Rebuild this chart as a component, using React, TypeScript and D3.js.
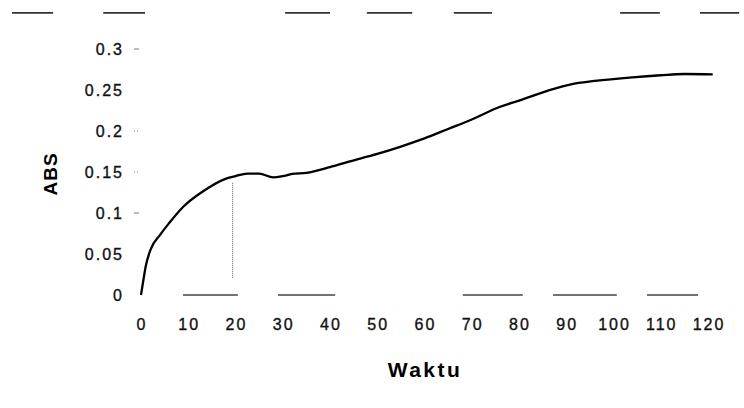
import React from "react";
import * as d3 from "d3";

const timeValues = [0, 0.5, 1, 2, 4, 6, 9, 13, 18, 20, 22.5, 25, 28, 30, 32, 35, 40, 44, 50, 55, 60, 65, 70, 76, 80, 86, 91, 96, 104, 110, 115, 121];
const absValues = [0, 0.018, 0.035, 0.055, 0.073, 0.088, 0.108, 0.126, 0.142, 0.145, 0.148, 0.148, 0.1435, 0.145, 0.1476, 0.149, 0.156, 0.1626, 0.172, 0.181, 0.191, 0.2025, 0.214, 0.2296, 0.237, 0.249, 0.257, 0.261, 0.2655, 0.268, 0.2695, 0.269];

const xTicks = [0, 10, 20, 30, 40, 50, 60, 70, 80, 90, 100, 110, 120];
const yTicks = [0, 0.05, 0.1, 0.15, 0.2, 0.25, 0.3];
const yTickLabels = ["0", "0.05", "0.1", "0.15", "0.2", "0.25", "0.3"];
const yTickMarks = [0.1, 0.15, 0.2, 0.3];

const markerTime = 19.4;
const markerRange = [0.021, 0.137];

// scan-artifact segments (time start, time end)
const topSegments = [[-27.3, -18.6], [-8.0, 0.85], [30.5, 40.0], [47.8, 57.4], [66.2, 74.3], [101.4, 109.8], [118.3, 126.6]];
const topSegmentLevel = 0.344;
const bottomSegments = [[8.9, 20.5], [29.0, 41.1], [68.1, 80.8], [87.2, 100.7], [107.1, 117.9]];

const xTitle = "Waktu";
const yTitle = "ABS";

export default function App() {
  const W = 744, H = 408;
  const x = d3.scaleLinear().domain([0, 120]).range([141, 708]);
  const y = d3.scaleLinear().domain([0, 0.3]).range([295, 49]);
  const data = timeValues.map((t, i) => [t, absValues[i]] as [number, number]);
  const line = d3.line<[number, number]>().x(d => x(d[0])).y(d => y(d[1])).curve(d3.curveMonotoneX);
  const font = "Arial, 'Liberation Sans', sans-serif";

  return (
    <svg width={W} height={H} style={{ position: "absolute", left: 0, top: 0, background: "#fff" }}>
      <rect width={W} height={H} fill="#fff" />
      {topSegments.map((s, i) => (
        <line key={"t" + i} x1={x(s[0])} x2={x(s[1])} y1={y(topSegmentLevel)} y2={y(topSegmentLevel)} stroke="#333" strokeWidth={1.6} />
      ))}
      {bottomSegments.map((s, i) => (
        <line key={"b" + i} x1={x(s[0])} x2={x(s[1])} y1={y(0)} y2={y(0)} stroke="#444" strokeWidth={1.3} />
      ))}
      {yTickMarks.map((v, i) => (
        <line key={"ym" + i} x1={134} x2={139} y1={y(v)} y2={y(v)} stroke="#777" strokeWidth={1} strokeDasharray={v === 0.15 || v === 0.2 ? "1,2" : undefined} />
      ))}
      {yTicks.map((v, i) => (
        <text key={"yl" + i} x={124} y={y(v) + 6} textAnchor="end" fontFamily={font} fontSize={16} letterSpacing={2} fill="#111" stroke="#111" strokeWidth={0.35}>
          {yTickLabels[i]}
        </text>
      ))}
      {xTicks.map((t, i) => (
        <text key={"xl" + i} x={x(t) + 1} y={330} textAnchor="middle" fontFamily={font} fontSize={16} letterSpacing={2} fill="#111" stroke="#111" strokeWidth={0.35}>
          {String(t)}
        </text>
      ))}
      <line x1={x(markerTime)} x2={x(markerTime)} y1={y(markerRange[0])} y2={y(markerRange[1])} stroke="#555" strokeWidth={1} strokeDasharray="1,1" />
      <path d={line(data) || ""} fill="none" stroke="#000" strokeWidth={2.3} />
      <text x={425} y={377} textAnchor="middle" fontFamily={font} fontSize={21} fontWeight="bold" letterSpacing={2.5} fill="#000">
        {xTitle}
      </text>
      <text transform="translate(57,174) rotate(-90)" textAnchor="middle" fontFamily={font} fontSize={19} fontWeight="bold" letterSpacing={1} fill="#000">
        {yTitle}
      </text>
    </svg>
  );
}
